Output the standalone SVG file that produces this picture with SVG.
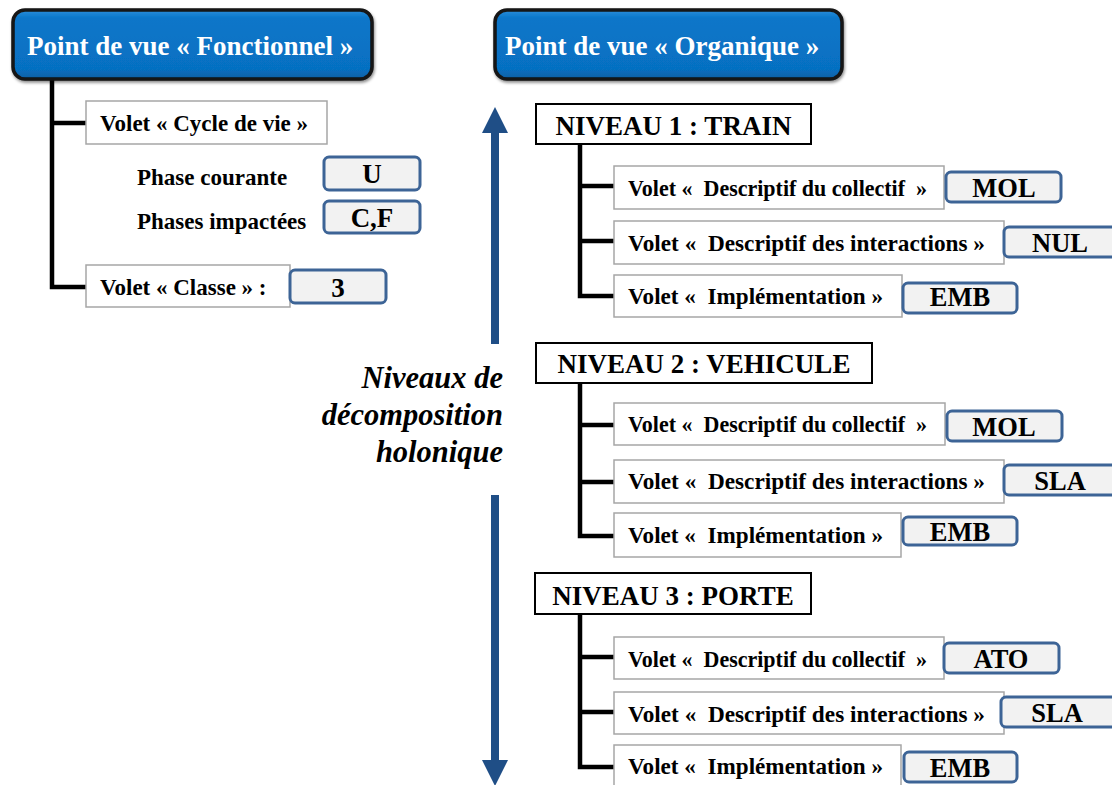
<svg xmlns="http://www.w3.org/2000/svg" width="1112" height="785" viewBox="0 0 1112 785">
<defs>
<linearGradient id="blueGrad" x1="0" y1="0" x2="0" y2="1">
<stop offset="0" stop-color="#2A8EDB"/>
<stop offset="0.12" stop-color="#0A76C9"/>
<stop offset="0.85" stop-color="#0670C2"/>
<stop offset="1" stop-color="#0A5FA3"/>
</linearGradient>
<filter id="shadow" x="-5%" y="-10%" width="110%" height="130%">
<feDropShadow dx="1" dy="2" stdDeviation="1.5" flood-color="#000" flood-opacity="0.45"/>
</filter>
</defs>
<style>
.title{fill:url(#blueGrad);stroke:#141414;stroke-width:3.5}
.ttxt{font-family:"Liberation Serif","Times New Roman",serif;font-weight:bold;font-size:27px;fill:#fff}
.gbox{fill:#fff;stroke:#A6A6A6;stroke-width:1.5}
.kbox{fill:#fff;stroke:#000;stroke-width:2}
.vbox{fill:#F2F2F2;stroke:#3D6496;stroke-width:3}
.txt{font-family:"Liberation Serif","Times New Roman",serif;font-weight:bold;fill:#000}
.s23{font-size:23px}
.s22{font-size:23px}
.s27{font-size:27px}
.s26{font-size:26.5px}
.mid{text-anchor:middle}
.lvl{font-family:"Liberation Serif","Times New Roman",serif;font-weight:bold;font-style:italic;font-size:30.5px;fill:#000;text-anchor:end}
.conn{stroke:#000;stroke-width:4.5;fill:none;stroke-linecap:square}
.arrow{fill:#1F4E86}
</style>

<g id="connectors">
<path class="conn" d="M52,80 V287 H84 M52,123 H84"/>
<path class="conn" d="M580,145 V296 H612 M580,186 H612 M580,241 H612"/>
<path class="conn" d="M580,384 V536 H612 M580,425 H612 M580,482 H612"/>
<path class="conn" d="M580,615 V767 H612 M580,657 H612 M580,712 H612"/>
</g>

<g id="axis-arrow">
<polygon class="arrow" points="495,107 482,133 491,133 491,344 499,344 499,133 508,133"/>
<polygon class="arrow" points="491,495 499,495 499,760 508,760 495,786 482,760 491,760"/>
<text class="lvl" x="503" y="388">Niveaux de</text>
<text class="lvl" x="503" y="425">décomposition</text>
<text class="lvl" x="503" y="462">holonique</text>
</g>

<g id="pv-fonctionnel">
<rect class="title" x="13" y="10" width="359" height="69" rx="12" filter="url(#shadow)"/>
<text class="ttxt" x="27" y="55">Point de vue « Fonctionnel »</text>
</g>

<g id="pv-organique">
<rect class="title" x="495" y="10" width="347" height="69" rx="12" filter="url(#shadow)"/>
<text class="ttxt" x="505" y="55">Point de vue « Organique »</text>
</g>

<g id="volet-cycle">
<rect class="gbox" x="86" y="101" width="241" height="43"/>
<text class="txt s23" x="100" y="131">Volet « Cycle de vie »</text>
</g>
<g id="phase-courante">
<text class="txt s23" x="137" y="185">Phase courante</text>
<rect class="vbox" x="324" y="157" width="96" height="33" rx="5"/>
<text class="txt s27 mid" x="372" y="183">U</text>
</g>
<g id="phases-impactees">
<text class="txt s23" x="137" y="229">Phases impactées</text>
<rect class="vbox" x="324" y="201" width="96" height="32" rx="5"/>
<text class="txt s27 mid" x="372" y="227">C,F</text>
</g>
<g id="volet-classe">
<rect class="gbox" x="86" y="265" width="204" height="42"/>
<text class="txt s23" x="100" y="295">Volet « Classe » :</text>
<rect class="vbox" x="290" y="270" width="96" height="33" rx="5"/>
<text class="txt s27 mid" x="338" y="297">3</text>
</g>

<g id="niveau1">
<rect class="kbox" x="536" y="104" width="275" height="40"/>
<text class="txt s27 mid" x="673.5" y="135">NIVEAU 1 : TRAIN</text>
</g>
<g id="n1-collectif">
<rect class="gbox" x="614" y="166" width="330" height="43"/>
<text class="txt s22" x="628" y="196" textLength="299" lengthAdjust="spacingAndGlyphs">Volet « &#160;Descriptif du collectif &#160;»</text>
<rect class="vbox" x="946" y="172" width="115" height="30" rx="5"/>
<text class="txt s26 mid" x="1004" y="197">MOL</text>
</g>
<g id="n1-interactions">
<rect class="gbox" x="614" y="221" width="390" height="43"/>
<text class="txt s22" x="628" y="251" textLength="357" lengthAdjust="spacingAndGlyphs">Volet « &#160;Descriptif des interactions »</text>
<rect class="vbox" x="1004" y="227" width="116" height="30" rx="5"/>
<text class="txt s26 mid" x="1060" y="252">NUL</text>
</g>
<g id="n1-implementation">
<rect class="gbox" x="614" y="275" width="288" height="42"/>
<text class="txt s22" x="628" y="304" textLength="255" lengthAdjust="spacingAndGlyphs">Volet « &#160;Implémentation »</text>
<rect class="vbox" x="903" y="283" width="114" height="30" rx="5"/>
<text class="txt s26 mid" x="960" y="306">EMB</text>
</g>

<g id="niveau2">
<rect class="kbox" x="536" y="343" width="336" height="40"/>
<text class="txt s27 mid" x="704" y="373">NIVEAU 2 : VEHICULE</text>
</g>
<g id="n2-collectif">
<rect class="gbox" x="614" y="403" width="331" height="42"/>
<text class="txt s22" x="628" y="432" textLength="299" lengthAdjust="spacingAndGlyphs">Volet « &#160;Descriptif du collectif &#160;»</text>
<rect class="vbox" x="947" y="411" width="115" height="30" rx="5"/>
<text class="txt s26 mid" x="1004" y="436">MOL</text>
</g>
<g id="n2-interactions">
<rect class="gbox" x="614" y="460" width="390" height="43"/>
<text class="txt s22" x="628" y="489" textLength="357" lengthAdjust="spacingAndGlyphs">Volet « &#160;Descriptif des interactions »</text>
<rect class="vbox" x="1004" y="465" width="116" height="30" rx="5"/>
<text class="txt s26 mid" x="1060" y="490">SLA</text>
</g>
<g id="n2-implementation">
<rect class="gbox" x="614" y="513" width="287" height="44"/>
<text class="txt s22" x="628" y="543" textLength="255" lengthAdjust="spacingAndGlyphs">Volet « &#160;Implémentation »</text>
<rect class="vbox" x="903" y="517" width="114" height="28" rx="5"/>
<text class="txt s26 mid" x="960" y="541">EMB</text>
</g>

<g id="niveau3">
<rect class="kbox" x="535" y="573" width="276" height="41"/>
<text class="txt s27 mid" x="673" y="605">NIVEAU 3 : PORTE</text>
</g>
<g id="n3-collectif">
<rect class="gbox" x="614" y="637" width="330" height="42"/>
<text class="txt s22" x="628" y="667" textLength="299" lengthAdjust="spacingAndGlyphs">Volet « &#160;Descriptif du collectif &#160;»</text>
<rect class="vbox" x="944" y="643" width="115" height="30" rx="5"/>
<text class="txt s26 mid" x="1001" y="668">ATO</text>
</g>
<g id="n3-interactions">
<rect class="gbox" x="614" y="692" width="390" height="42"/>
<text class="txt s22" x="628" y="722" textLength="357" lengthAdjust="spacingAndGlyphs">Volet « &#160;Descriptif des interactions »</text>
<rect class="vbox" x="1001" y="697" width="116" height="30" rx="5"/>
<text class="txt s26 mid" x="1057" y="722">SLA</text>
</g>
<g id="n3-implementation">
<rect class="gbox" x="614" y="745" width="287" height="45"/>
<text class="txt s22" x="628" y="774" textLength="255" lengthAdjust="spacingAndGlyphs">Volet « &#160;Implémentation »</text>
<rect class="vbox" x="904" y="752" width="113" height="30" rx="5"/>
<text class="txt s26 mid" x="960" y="777">EMB</text>
</g>
</svg>
